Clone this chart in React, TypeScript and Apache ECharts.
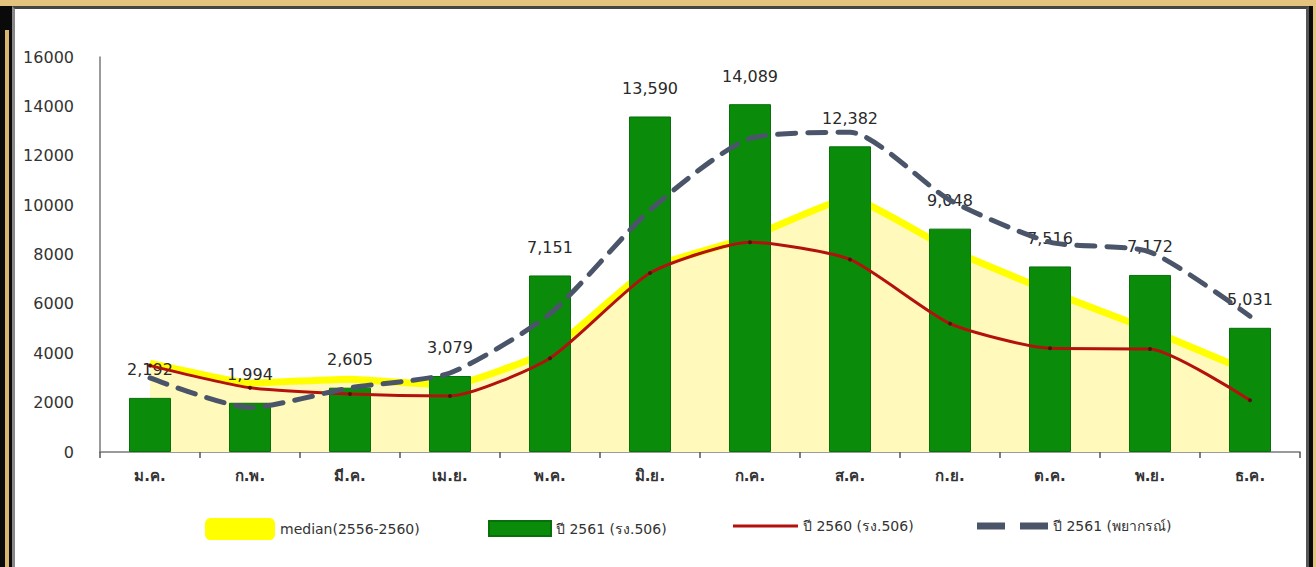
import React, { useEffect, useRef } from "react";
import * as echarts from "echarts";

const months = ["ม.ค.", "ก.พ.", "มี.ค.", "เม.ย.", "พ.ค.", "มิ.ย.", "ก.ค.", "ส.ค.", "ก.ย.", "ต.ค.", "พ.ย.", "ธ.ค."];
const median5y = [3600, 2800, 2950, 2700, 4100, 7450, 8700, 10300, 8200, 6500, 4950, 3250];
const y2561 = [2192, 1994, 2605, 3079, 7151, 13590, 14089, 12382, 9048, 7516, 7172, 5031];
const y2560 = [3500, 2600, 2350, 2270, 3800, 7250, 8500, 7800, 5200, 4200, 4170, 2100];
const forecast2561 = [3000, 1800, 2600, 3200, 5600, 9800, 12700, 12950, 10200, 8500, 8100, 5500];
const yTicks = [0, 2000, 4000, 6000, 8000, 10000, 12000, 14000, 16000];

const names = ["median(2556-2560)", "ปี 2561 (รง.506)", "ปี 2560 (รง.506)", "ปี 2561 (พยากรณ์)"];

const FONT = "Tahoma, 'DejaVu Sans', 'Noto Sans', sans-serif";

export default function App() {
  const ref = useRef<HTMLDivElement>(null);
  useEffect(() => {
    if (!ref.current) return;
    const chart = echarts.init(ref.current, null, { renderer: "svg" });
    const legendText = { fontSize: 14, color: "#333", fontFamily: FONT };
    chart.setOption({
      animation: false,
      textStyle: { fontFamily: FONT },
      grid: { left: 100, right: 16, top: 57, bottom: 115, containLabel: false },
      legend: [
        {
          data: [{ name: names[0], icon: "roundRect" }],
          left: 200, top: 513, itemWidth: 70, itemHeight: 22, itemGap: 4,
          textStyle: legendText,
        },
        {
          data: [{ name: names[1], icon: "rect" }],
          left: 483, top: 515, itemWidth: 62, itemHeight: 15, itemGap: 4,
          textStyle: legendText,
        },
        {
          data: [{ name: names[2], icon: "rect", itemStyle: { color: "#b3110d" } }],
          left: 728, top: 514, itemWidth: 65, itemHeight: 3, itemGap: 4,
          textStyle: legendText,
        },
        {
          data: [{ name: names[3], icon: "path://M0,0h28v7h-28z M43,0h28v7h-28z", itemStyle: { color: "#4a5569" } }],
          left: 972, top: 514, itemWidth: 71, itemHeight: 7, itemGap: 4,
          textStyle: legendText,
        },
      ],
      xAxis: {
        type: "category",
        data: months,
        boundaryGap: true,
        axisLine: { show: true, lineStyle: { color: "#7a7a7a", width: 1.5 } },
        axisTick: { show: true, length: 6, alignWithLabel: false, lineStyle: { color: "#555", width: 1.5 } },
        axisLabel: { fontSize: 15, color: "#333", margin: 16, fontWeight: "bold", fontFamily: FONT },
        splitLine: { show: false },
      },
      yAxis: {
        type: "value",
        min: yTicks[0],
        max: yTicks[yTicks.length - 1],
        interval: 2000,
        axisLine: { show: true, lineStyle: { color: "#7a7a7a", width: 1.5 } },
        axisTick: { show: false },
        axisLabel: { fontSize: 16, color: "#333", margin: 26, fontFamily: FONT, formatter: (v: number) => String(v) },
        splitLine: { show: false },
      },
      series: [
        {
          name: names[0],
          type: "line",
          data: median5y,
          symbol: "none",
          z: 1,
          smooth: 0.12,
          itemStyle: { color: "#ffff00" },
          lineStyle: { color: "#ffff00", width: 7 },
          areaStyle: { color: "#fff9bb", opacity: 1 },
        },
        {
          name: names[1],
          type: "bar",
          data: y2561,
          barWidth: "42%",
          z: 2,
          itemStyle: { color: "#0a8c0a", borderColor: "#07700a", borderWidth: 1 },
          label: {
            show: true,
            position: "top",
            distance: 20,
            fontSize: 16,
            color: "#2a2a2a",
            fontFamily: FONT,
            formatter: (p: any) => Number(p.value).toLocaleString("en-US"),
          },
        },
        {
          name: names[2],
          type: "line",
          data: y2560,
          z: 3,
          smooth: 0.2,
          symbol: "circle",
          symbolSize: 4,
          itemStyle: { color: "#5a0d08" },
          lineStyle: { color: "#b3110d", width: 3 },
        },
        {
          name: names[3],
          type: "line",
          data: forecast2561,
          z: 4,
          smooth: 0.22,
          symbol: "none",
          itemStyle: { color: "#4a5569" },
          lineStyle: { color: "#4a5569", width: 5, type: [18, 12], cap: "round" },
        },
      ],
    });
    return () => chart.dispose();
  }, []);

  return (
    <div style={{ position: "fixed", left: 0, top: 0, width: 1316, height: 567, background: "#0a0a0a", overflow: "hidden" }}>
      <div style={{ position: "absolute", left: 0, top: 0, width: 1316, height: 6, background: "#e4c37e" }} />
      <div style={{ position: "absolute", left: 5, top: 30, width: 4, height: 537, background: "#d9b56e" }} />
      <div style={{ position: "absolute", left: 1313, top: 0, width: 3, height: 567, background: "#e4c37e" }} />
      <div
        style={{
          position: "absolute",
          left: 12,
          top: 6,
          width: 1297,
          height: 570,
          background: "#ffffff",
          borderTop: "3px solid #444",
          borderLeft: "3px solid #888",
          borderRight: "3px solid #555",
          boxSizing: "border-box",
        }}
      />
      <div ref={ref} style={{ position: "absolute", left: 0, top: 0, width: 1316, height: 567 }} />
    </div>
  );
}
